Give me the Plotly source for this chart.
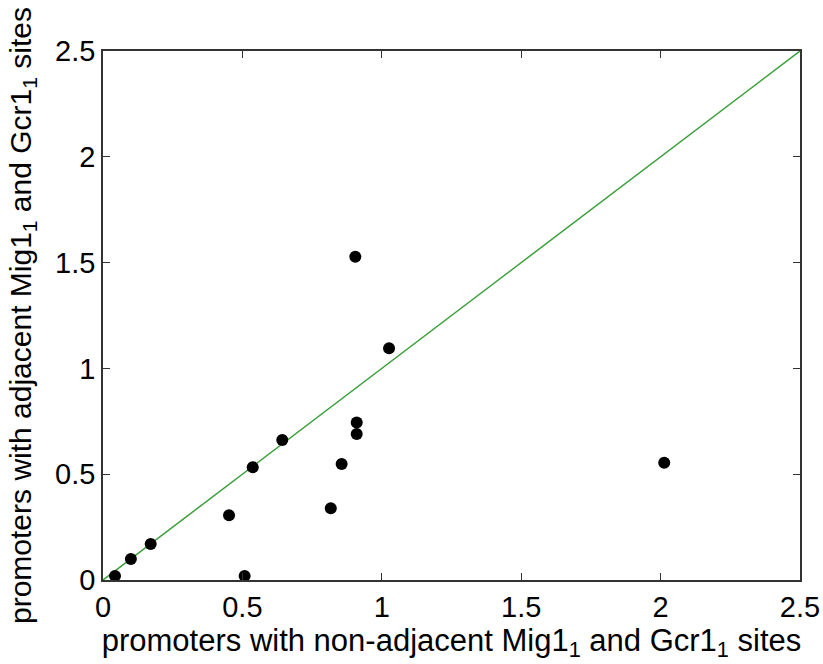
import plotly.graph_objects as go

x_vals = [0.043, 0.100, 0.171, 0.452, 0.508, 0.817, 0.905, 1.026, 0.910, 0.910, 0.856, 0.537, 0.643, 2.013]
y_vals = [0.019, 0.099, 0.170, 0.306, 0.019, 0.339, 1.528, 1.095, 0.744, 0.690, 0.548, 0.533, 0.662, 0.554]
line_x = [0, 2.5]
line_y = [0, 2.5]
tick_vals = [0, 0.5, 1, 1.5, 2, 2.5]
tick_text = ["0", "0.5", "1", "1.5", "2", "2.5"]

FONT = "Liberation Sans, Arial"

fig = go.Figure()
fig.add_trace(go.Scatter(x=line_x, y=line_y, mode="lines",
                         line=dict(color="#3a9f3a", width=1.5), showlegend=False, cliponaxis=False))
fig.add_trace(go.Scatter(x=x_vals, y=y_vals, mode="markers",
                         marker=dict(color="black", size=12), showlegend=False, cliponaxis=False))

axis_common = dict(
    range=[0, 2.5], tickvals=tick_vals, ticktext=tick_text,
    showline=True, linecolor="#333333", linewidth=1.5, mirror="ticks",
    ticks="inside", ticklen=7, tickcolor="#333333", tickwidth=1,
    showgrid=False, zeroline=False, automargin=False,
    tickfont=dict(family=FONT, size=29, color="black"),
)

fig.update_layout(
    width=823, height=664,
    margin=dict(l=103, r=23, t=51, b=84),
    plot_bgcolor="white", paper_bgcolor="white",
    xaxis=dict(**axis_common,
               title=dict(text="promoters with non-adjacent Mig1<sub>1</sub> and Gcr1<sub>1</sub> sites",
                          font=dict(family=FONT, size=31, color="black"),
                          standoff=0)),
    yaxis=dict(**axis_common,
               title=dict(text="promoters with adjacent Mig1<sub>1</sub> and Gcr1<sub>1</sub> sites",
                          font=dict(family=FONT, size=30, color="black"),
                          standoff=15)),
)

fig.write_html("out.html")
